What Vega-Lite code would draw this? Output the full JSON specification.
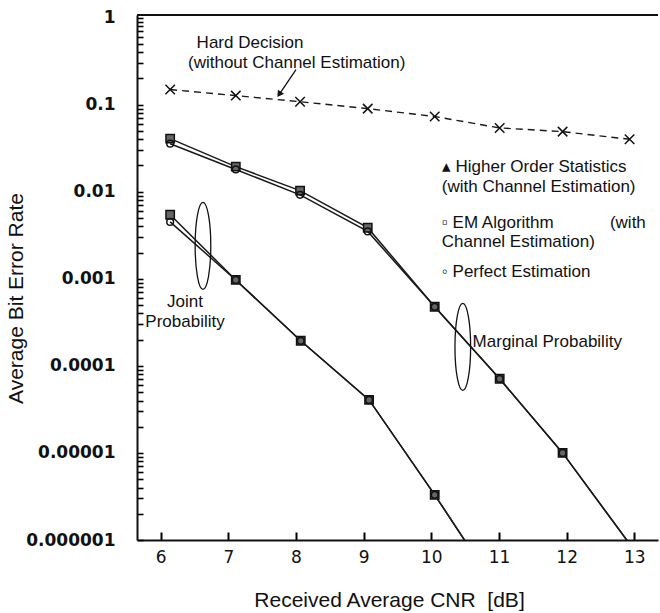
{
  "$schema": "https://vega.github.io/schema/vega-lite/v6.json",
  "width": 521,
  "height": 525,
  "autosize": {"type": "none"},
  "padding": {"left": 137, "top": 15, "right": 2, "bottom": 73},
  "background": "white",
  "config": {"view": {"stroke": null}},
  "datasets": {
    "ber": [
      {"series": "Hard Decision", "cnr": 6.14, "ber": 0.149},
      {"series": "Hard Decision", "cnr": 7.11, "ber": 0.127},
      {"series": "Hard Decision", "cnr": 8.06, "ber": 0.108},
      {"series": "Hard Decision", "cnr": 9.06, "ber": 0.090},
      {"series": "Hard Decision", "cnr": 10.05, "ber": 0.073},
      {"series": "Hard Decision", "cnr": 11.01, "ber": 0.054},
      {"series": "Hard Decision", "cnr": 11.94, "ber": 0.049},
      {"series": "Hard Decision", "cnr": 12.93, "ber": 0.040},
      {"series": "Marginal EM", "cnr": 6.14, "ber": 0.0407},
      {"series": "Marginal EM", "cnr": 7.11, "ber": 0.0194},
      {"series": "Marginal EM", "cnr": 8.06, "ber": 0.0103},
      {"series": "Marginal EM", "cnr": 9.06, "ber": 0.00386},
      {"series": "Marginal EM", "cnr": 10.05, "ber": 0.000477},
      {"series": "Marginal EM", "cnr": 11.01, "ber": 0.000071},
      {"series": "Marginal EM", "cnr": 11.94, "ber": 0.00001},
      {"series": "Marginal EM", "cnr": 12.95, "ber": 0.00000086},
      {"series": "Marginal Perfect", "cnr": 6.14, "ber": 0.0356},
      {"series": "Marginal Perfect", "cnr": 7.11, "ber": 0.0180},
      {"series": "Marginal Perfect", "cnr": 8.06, "ber": 0.0092},
      {"series": "Marginal Perfect", "cnr": 9.06, "ber": 0.0035},
      {"series": "Marginal Perfect", "cnr": 10.05, "ber": 0.000477},
      {"series": "Marginal Perfect", "cnr": 11.01, "ber": 0.000071},
      {"series": "Marginal Perfect", "cnr": 11.94, "ber": 0.00001},
      {"series": "Marginal Perfect", "cnr": 12.95, "ber": 0.00000086},
      {"series": "Joint EM", "cnr": 6.14, "ber": 0.00544},
      {"series": "Joint EM", "cnr": 7.11, "ber": 0.00097},
      {"series": "Joint EM", "cnr": 8.07, "ber": 0.000194},
      {"series": "Joint EM", "cnr": 9.08, "ber": 0.0000406},
      {"series": "Joint EM", "cnr": 10.05, "ber": 0.0000033},
      {"series": "Joint EM", "cnr": 10.55, "ber": 0.00000085},
      {"series": "Joint Perfect", "cnr": 6.14, "ber": 0.0045},
      {"series": "Joint Perfect", "cnr": 7.11, "ber": 0.00097},
      {"series": "Joint Perfect", "cnr": 8.07, "ber": 0.000194},
      {"series": "Joint Perfect", "cnr": 9.08, "ber": 0.0000406},
      {"series": "Joint Perfect", "cnr": 10.05, "ber": 0.0000033},
      {"series": "Joint Perfect", "cnr": 10.55, "ber": 0.00000085}
    ],
    "notes_center": [
      {"text": "Hard Decision", "cnr": 7.32, "ber": 0.516},
      {"text": "(without Channel Estimation)", "cnr": 8.01, "ber": 0.304},
      {"text": "Joint", "cnr": 6.36, "ber": 0.000545},
      {"text": "Probability", "cnr": 6.36, "ber": 0.00032}
    ],
    "notes_left": [
      {"text": "▴ Higher Order Statistics", "cnr": 10.155, "ber": 0.0194},
      {"text": "(with Channel Estimation)", "cnr": 10.155, "ber": 0.01138},
      {"text": "▫ EM Algorithm", "cnr": 10.155, "ber": 0.0044},
      {"text": "Channel Estimation)", "cnr": 10.155, "ber": 0.00266},
      {"text": "◦ Perfect Estimation", "cnr": 10.155, "ber": 0.0012},
      {"text": "Marginal Probability", "cnr": 10.61, "ber": 0.000189}
    ],
    "notes_right": [
      {"text": "(with", "cnr": 13.17, "ber": 0.0044}
    ],
    "ellipses": [
      {"group": "Joint", "cnr": 6.625, "ber": 0.00239},
      {"group": "Marginal", "cnr": 10.465, "ber": 0.000165}
    ],
    "arrow": [
      {"cnr": 8.0, "ber": 0.252, "cnr_end": 7.76, "ber_end": 0.134}
    ],
    "frame": [
      {"cnr": 5.65, "cnr_end": 13.35, "ber": 1.07}
    ]
  },
  "layer": [
    {
      "data": {"name": "ber"},
      "transform": [{"filter": "datum.series != 'Hard Decision'"}],
      "mark": {"type": "line", "clip": true, "color": "#1a1a1a", "strokeWidth": 1.5},
      "encoding": {
        "x": {
          "field": "cnr", "type": "quantitative",
          "scale": {"domain": [5.65, 13.35], "nice": false, "zero": false},
          "axis": {
            "orient": "bottom", "values": [6, 7, 8, 9, 10, 11, 12, 13], "format": "d",
            "grid": true, "gridOpacity": 0,
            "ticks": true, "tickSize": -8, "tickWidth": 2, "tickColor": "black", "tickOpacity": 1,
            "domainColor": "#111", "domainWidth": 2,
            "labelPadding": 17, "labelColor": "#111",
            "labelFont": "DejaVu Sans", "labelFontSize": 17, "labelFontWeight": "normal",
            "title": "Received Average CNR\u00a0 [dB]", "titleColor": "#111", "titleFont": "Liberation Sans", "titleFontSize": 21,
            "titleFontWeight": "normal", "titlePadding": 24, "titleX": 252
          }
        },
        "y": {
          "field": "ber", "type": "quantitative",
          "scale": {"type": "log", "domain": [0.000001, 1.07], "nice": false},
          "axis": {
            "orient": "left", "grid": true, "gridOpacity": 0,
            "values": [0.000001, 0.000002, 0.000003, 0.000004, 0.000005, 0.000006, 0.000007, 0.000008, 0.000009,
                       0.00001, 0.00002, 0.00003, 0.00004, 0.00005, 0.00006, 0.00007, 0.00008, 0.00009,
                       0.0001, 0.0002, 0.0003, 0.0004, 0.0005, 0.0006, 0.0007, 0.0008, 0.0009,
                       0.001, 0.002, 0.003, 0.004, 0.005, 0.006, 0.007, 0.008, 0.009,
                       0.01, 0.02, 0.03, 0.04, 0.05, 0.06, 0.07, 0.08, 0.09,
                       0.1, 0.2, 0.3, 0.4, 0.5, 0.6, 0.7, 0.8, 0.9, 1],
            "labelExpr": "abs(log(datum.value)/LN10 - round(log(datum.value)/LN10)) < 0.001 ? format(datum.value, '~g') : ''",
            "ticks": true, "tickSize": -6, "tickWidth": 1.6, "tickColor": "black", "tickOpacity": 1,
            "domainColor": "#111", "domainWidth": 2,
            "labelPadding": 28, "labelColor": "#111",
            "labelOverlap": false, "labelBound": false,
            "labelFont": "DejaVu Sans", "labelFontWeight": "bold", "labelFontSize": 17,
            "title": "Average Bit Error Rate", "titleColor": "#111", "titleFont": "Liberation Sans", "titleFontSize": 21,
            "titleFontWeight": "normal", "titleX": -111, "titleY": 283
          }
        },
        "detail": {"field": "series"}
      }
    },
    {
      "data": {"name": "ber"},
      "transform": [{"filter": "datum.series == 'Hard Decision'"}],
      "mark": {"type": "line", "clip": true, "color": "#1a1a1a", "strokeWidth": 1.4, "strokeDash": [7, 5]},
      "encoding": {
        "x": {"field": "cnr", "type": "quantitative"},
        "y": {"field": "ber", "type": "quantitative"}
      }
    },
    {
      "data": {"name": "ber"},
      "transform": [{"filter": "(datum.series == 'Marginal EM' || datum.series == 'Joint EM') && datum.ber >= 0.000001"}],
      "mark": {"type": "point", "shape": "square", "filled": true, "fill": "#666", "stroke": "#111", "strokeWidth": 1.5, "size": 70, "opacity": 1},
      "encoding": {
        "x": {"field": "cnr", "type": "quantitative"},
        "y": {"field": "ber", "type": "quantitative"}
      }
    },
    {
      "data": {"name": "ber"},
      "transform": [{"filter": "(datum.series == 'Marginal Perfect' || datum.series == 'Joint Perfect') && datum.ber >= 0.000001"}],
      "mark": {"type": "point", "shape": "circle", "filled": false, "stroke": "#111", "strokeWidth": 1.5, "size": 45, "opacity": 1},
      "encoding": {
        "x": {"field": "cnr", "type": "quantitative"},
        "y": {"field": "ber", "type": "quantitative"}
      }
    },
    {
      "data": {"name": "ber"},
      "transform": [{"filter": "datum.series == 'Hard Decision'"}],
      "mark": {"type": "point", "shape": "M-1,-1L1,1M-1,1L1,-1", "filled": false, "stroke": "#111", "strokeWidth": 1.5, "size": 90, "opacity": 1},
      "encoding": {
        "x": {"field": "cnr", "type": "quantitative"},
        "y": {"field": "ber", "type": "quantitative"}
      }
    },
    {
      "data": {"name": "notes_center"},
      "mark": {"type": "text", "align": "center", "baseline": "middle", "fontSize": 17, "font": "Liberation Sans", "color": "#111"},
      "encoding": {
        "x": {"field": "cnr", "type": "quantitative"},
        "y": {"field": "ber", "type": "quantitative"},
        "text": {"field": "text"}
      }
    },
    {
      "data": {"name": "notes_left"},
      "mark": {"type": "text", "align": "left", "baseline": "middle", "fontSize": 17, "font": "Liberation Sans", "color": "#111"},
      "encoding": {
        "x": {"field": "cnr", "type": "quantitative"},
        "y": {"field": "ber", "type": "quantitative"},
        "text": {"field": "text"}
      }
    },
    {
      "data": {"name": "notes_right"},
      "mark": {"type": "text", "align": "right", "baseline": "middle", "fontSize": 17, "font": "Liberation Sans", "color": "#111"},
      "encoding": {
        "x": {"field": "cnr", "type": "quantitative"},
        "y": {"field": "ber", "type": "quantitative"},
        "text": {"field": "text"}
      }
    },
    {
      "data": {"name": "ellipses"},
      "mark": {"type": "point", "shape": "M0,-1C0.099,-1,0.18,-0.552,0.18,0C0.18,0.552,0.099,1,0,1C-0.099,1,-0.18,0.552,-0.18,0C-0.18,-0.552,-0.099,-1,0,-1Z", "filled": false, "stroke": "#111", "strokeWidth": 1.3, "size": 7569, "opacity": 1},
      "encoding": {
        "x": {"field": "cnr", "type": "quantitative"},
        "y": {"field": "ber", "type": "quantitative"}
      }
    },
    {
      "data": {"name": "arrow"},
      "mark": {"type": "rule", "color": "#111", "strokeWidth": 1.3},
      "encoding": {
        "x": {"field": "cnr", "type": "quantitative"},
        "y": {"field": "ber", "type": "quantitative"},
        "x2": {"field": "cnr_end"},
        "y2": {"field": "ber_end"}
      }
    },
    {
      "data": {"name": "arrow"},
      "mark": {"type": "point", "shape": "triangle", "filled": true, "color": "#111", "size": 55, "angle": 214, "opacity": 1},
      "encoding": {
        "x": {"field": "cnr_end", "type": "quantitative"},
        "y": {"field": "ber_end", "type": "quantitative"}
      }
    },
    {
      "data": {"name": "frame"},
      "mark": {"type": "rule", "color": "#111", "strokeWidth": 2},
      "encoding": {
        "x": {"field": "cnr", "type": "quantitative"},
        "x2": {"field": "cnr_end"},
        "y": {"field": "ber", "type": "quantitative"}
      }
    }
  ]
}
